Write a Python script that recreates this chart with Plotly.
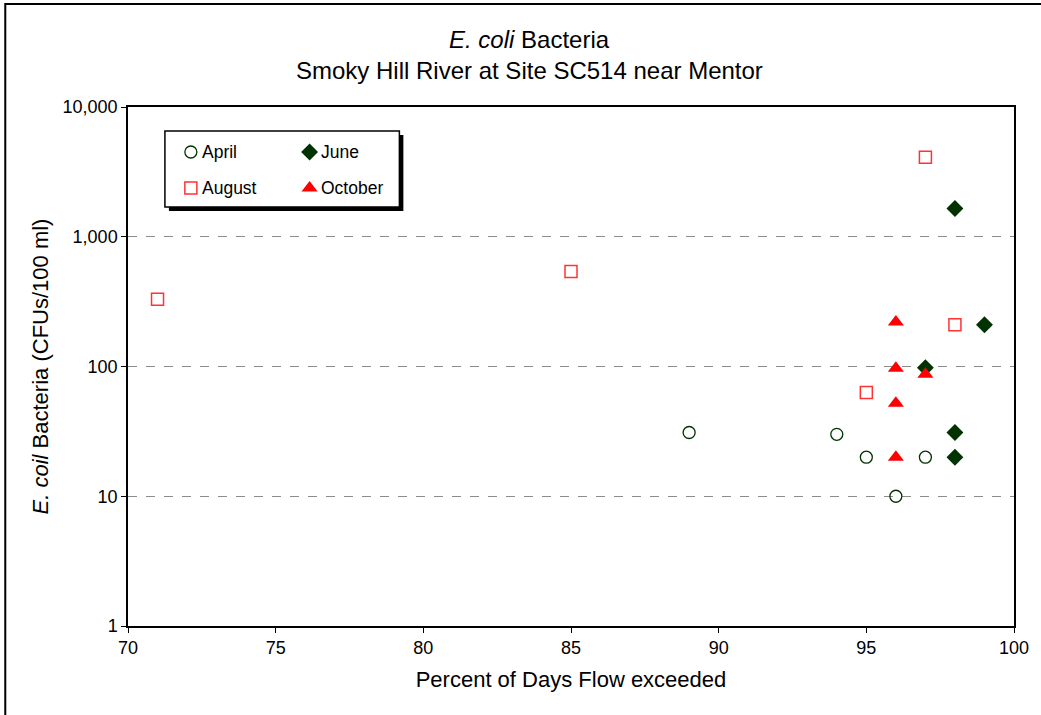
import plotly.graph_objects as go

# Data (Percent of days flow exceeded, E. coli CFUs/100 ml)
april_x = [89, 94, 95, 96, 97]
april_y = [31, 30, 20, 10, 20]
june_x = [98, 99, 97, 98, 98]
june_y = [1650, 210, 98, 31, 20]
august_x = [71, 85, 97, 98, 95]
august_y = [330, 540, 4100, 210, 63]
october_x = [96, 96, 97, 96, 96]
october_y = [220, 97, 87, 52, 20]

series_names = ["April", "June", "August", "October"]
y_tickvals = [1, 10, 100, 1000, 10000]
y_ticktext = ["1", "10", "100", "1,000", "10,000"]
x_tickvals = [70, 75, 80, 85, 90, 95, 100]

W, H = 1041, 715
ML, MR, MT, MB = 128, 25, 107, 89
font = "Liberation Sans, Arial, sans-serif"

GREEN = "#003300"
RED = "#ff0000"
RED_OPEN = "#ff3333"

styles = {
    "April": dict(symbol="circle-open", size=12, color=GREEN, line=dict(width=1.3, color=GREEN)),
    "June": dict(symbol="diamond", size=13, color=GREEN),
    "August": dict(symbol="square-open", size=12, color=RED_OPEN, line=dict(width=1.5, color=RED_OPEN)),
    "October": dict(symbol="triangle-up", size=14, color=RED),
}
data = {
    "April": (april_x, april_y),
    "June": (june_x, june_y),
    "August": (august_x, august_y),
    "October": (october_x, october_y),
}


def px_x(p):
    return (p - ML) / (W - ML - MR)


def px_y(p):
    return 1 - (p - MT) / (H - MT - MB)


fig = go.Figure()
for name in series_names:
    xs, ys = data[name]
    fig.add_trace(go.Scatter(x=xs, y=ys, mode="markers", name=name,
                             marker=styles[name], showlegend=False))

# Custom 2x2 legend (box from x=165..400, y=131..207 in pixels)
LX0, LX1, LY0, LY1 = 165, 400, 131, 207
legend_pos = {"April": (191, 152), "June": (310, 152), "August": (191, 188), "October": (310, 188)}
for name in series_names:
    lx, ly = legend_pos[name]
    fig.add_trace(go.Scatter(x=[lx], y=[ly], mode="markers", marker=styles[name],
                             xaxis="x2", yaxis="y2", showlegend=False, hoverinfo="skip"))
    fig.add_annotation(text=name, xref="x2", yref="y2", x=lx + 9, y=ly, xanchor="left",
                       yanchor="middle", showarrow=False, font=dict(size=17.5, family=font))

fig.update_layout(
    width=W, height=H,
    margin=dict(l=ML, r=MR, t=MT, b=MB, pad=0),
    paper_bgcolor="white", plot_bgcolor="rgba(0,0,0,0)",
    font=dict(family=font, size=18, color="black"),
    showlegend=False,
    xaxis=dict(range=[70, 100], tickvals=x_tickvals, showgrid=False, zeroline=False,
               showline=True, linecolor="black", linewidth=1.5, mirror=True,
               ticks="outside", ticklen=5, tickcolor="black",
               tickfont=dict(size=18, family=font),
               title=dict(text="Percent of Days Flow exceeded", font=dict(size=22, family=font), standoff=14)),
    yaxis=dict(type="log", range=[0, 4], tickvals=y_tickvals, ticktext=y_ticktext,
               showgrid=True, gridcolor="#8c8c8c", griddash="dash", gridwidth=1,
               zeroline=False, showline=True, linecolor="black", linewidth=1.5, mirror=True,
               ticks="outside", ticklen=5, tickcolor="black",
               tickfont=dict(size=18, family=font),
               title=dict(text="<i>E. coil</i> Bacteria (CFUs/100 ml)", font=dict(size=22, family=font), standoff=8)),
    xaxis2=dict(domain=[px_x(LX0), px_x(LX1)], range=[LX0, LX1], anchor="y2",
                visible=False, fixedrange=True),
    yaxis2=dict(domain=[px_y(LY1), px_y(LY0)], range=[LY1, LY0], anchor="x2",
                visible=False, fixedrange=True),
)

# outer chart frame
fig.add_shape(type="rect", xref="paper", yref="paper",
              x0=px_x(5), x1=px_x(1070), y0=px_y(740), y1=px_y(4),
              line=dict(color="black", width=2), fillcolor="rgba(0,0,0,0)", layer="below")
# legend shadow and box
fig.add_shape(type="rect", xref="paper", yref="paper",
              x0=px_x(LX0 + 4), x1=px_x(LX1 + 4), y0=px_y(LY1 + 4), y1=px_y(LY0 + 4),
              line=dict(width=0), fillcolor="black", layer="below")
fig.add_shape(type="rect", xref="paper", yref="paper",
              x0=px_x(LX0), x1=px_x(LX1), y0=px_y(LY1), y1=px_y(LY0),
              line=dict(color="black", width=1.5), fillcolor="white", layer="below")

fig.add_annotation(text="<i>E. coli</i> Bacteria", xref="paper", yref="paper",
                   x=px_x(530), y=px_y(40), xanchor="center", yanchor="middle",
                   showarrow=False, font=dict(size=24, family=font))
fig.add_annotation(text="Smoky Hill River at Site SC514 near Mentor", xref="paper", yref="paper",
                   x=px_x(530), y=px_y(70), xanchor="center", yanchor="middle",
                   showarrow=False, font=dict(size=24, family=font))

fig.write_html("out.html", config={"displayModeBar": False},
               post_script="document.body.style.margin='0';")
